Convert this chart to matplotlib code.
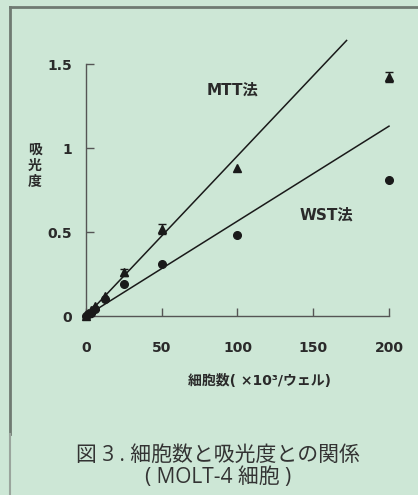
import matplotlib.pyplot as plt

plt.rcParams['font.family'] = ['Noto Sans CJK JP', 'DejaVu Sans']

# 細胞数 (×10^3/ウェル)
cells = [0, 1.56, 3.125, 6.25, 12.5, 25, 50, 100, 200]
# 吸光度
mtt = [0.0, 0.02, 0.035, 0.06, 0.12, 0.26, 0.52, 0.88, 1.42]
mtt_err = [0, 0, 0, 0, 0, 0.02, 0.03, 0, 0.03]
wst = [0.0, 0.01, 0.02, 0.04, 0.10, 0.19, 0.31, 0.48, 0.81]

# 回帰直線 (端点)
mtt_fit_x = [0, 172]
mtt_fit_y = [0, 1.64]
wst_fit_x = [0, 200]
wst_fit_y = [0, 1.13]

xticks = [0, 50, 100, 150, 200]
yticks = [0, 0.5, 1, 1.5]
ytick_labels = ['0', '0.5', '1', '1.5']

bg = '#cde7d6'
ink = '#1a1a1a'
txt = '#2a2a2a'
chart_font = ['DejaVu Sans', 'Noto Sans CJK JP']

W, H = 418, 495
fig = plt.figure(figsize=(W / 100, H / 100), dpi=100, facecolor=bg)

# 枠線
fig.add_artist(plt.Line2D([9.5 / W, 1], [1 - 6.5 / H, 1 - 6.5 / H], color='#6f7a72', lw=2))
fig.add_artist(plt.Line2D([9.5 / W, 9.5 / W], [1 - 6.5 / H, 1 - 434 / H], color='#6f7a72', lw=2))
fig.add_artist(plt.Line2D([9.5 / W, 9.5 / W], [1 - 434 / H, 0], color='#9aa59d', lw=1.5))

ax = fig.add_axes([86 / W, (H - 316) / H, (389 - 86) / W, (316 - 64) / H])
ax.set_facecolor(bg)

ax.plot(mtt_fit_x, mtt_fit_y, color=ink, lw=1.1, clip_on=False)
ax.plot(wst_fit_x, wst_fit_y, color=ink, lw=1.1, clip_on=False)
ax.plot(cells, mtt, '^', color=ink, ms=5.5, clip_on=False, zorder=3)
err_x = [c for c, e in zip(cells, mtt_err) if e > 0]
err_y = [m for m, e in zip(mtt, mtt_err) if e > 0]
err_e = [e for e in mtt_err if e > 0]
ax.errorbar(err_x, err_y, yerr=err_e, fmt='none', ecolor=ink, capsize=3,
            elinewidth=1, clip_on=False, zorder=3)
ax.plot(cells, wst, 'o', color=ink, ms=5.5, clip_on=False, zorder=3)

ax.set_xlim(0, 200)
ax.set_ylim(0, 1.5)
ax.set_xticks(xticks)
ax.set_yticks(yticks)
ax.set_yticklabels(ytick_labels)
for s in ['top', 'right']:
    ax.spines[s].set_visible(False)
for s in ['left', 'bottom']:
    ax.spines[s].set_color('#555555')
    ax.spines[s].set_linewidth(1)
ax.tick_params(direction='in', length=6, width=1, color='#555555',
               labelsize=10, labelcolor=txt)
ax.tick_params(axis='y', pad=10)
ax.tick_params(axis='x', pad=18)
for lab in ax.get_xticklabels() + ax.get_yticklabels():
    lab.set_fontweight('bold')
    lab.set_family(chart_font)

fig.text(233 / W, 1 - 90 / H, 'MTT法', fontsize=11, color=txt, weight='bold',
         family=chart_font, ha='center', va='center')
fig.text(326 / W, 1 - 215 / H, 'WST法', fontsize=11, color=txt, weight='bold',
         family=chart_font, ha='center', va='center')
fig.text(35 / W, 1 - 166 / H, '吸\n光\n度', fontsize=10, color=txt, weight='bold',
         ha='center', va='center', linespacing=1.2)
fig.text(260 / W, 1 - 381 / H, '細胞数( ×10³/ウェル)', fontsize=10, color=txt,
         weight='bold', family=chart_font, ha='center', va='center')

cap_font = ['Open Sans', 'Noto Sans CJK JP']
fig.text(218 / W, 1 - 455 / H, '図 3 . 細胞数と吸光度との関係', fontsize=15, color='#333333',
         family=cap_font, ha='center', va='center')
fig.text(218 / W, 1 - 478 / H, '( MOLT-4 細胞 )', fontsize=15, color='#333333',
         family=cap_font, ha='center', va='center')

fig.savefig('out.png', dpi=100, facecolor=bg)
